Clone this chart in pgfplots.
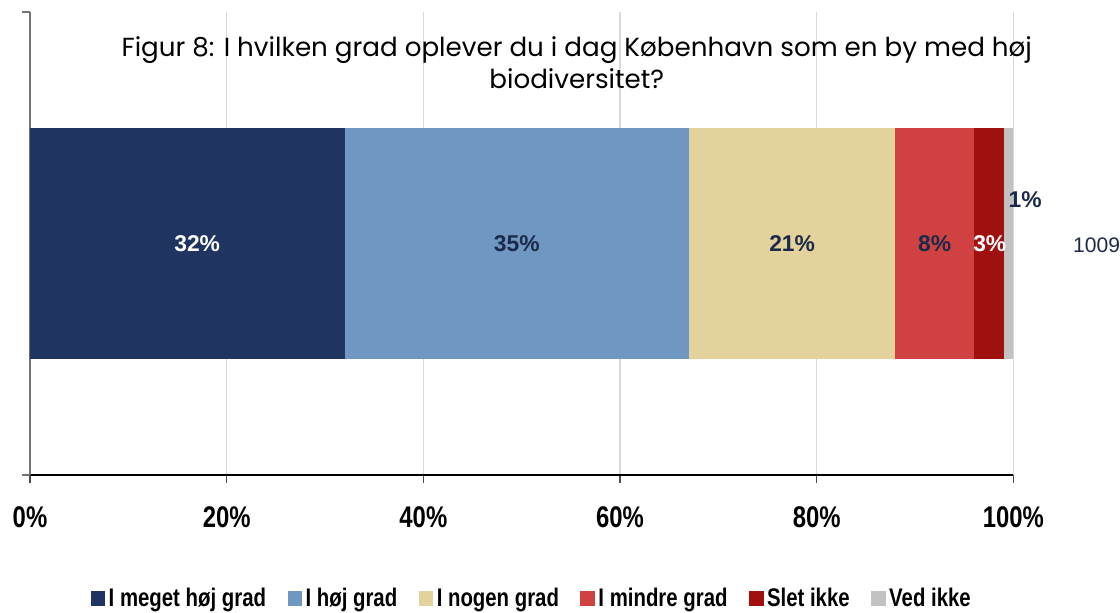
\documentclass[border=0pt]{standalone}
\usepackage{pgfplots}
\pgfplotsset{compat=1.18}
\usepackage{fontspec}
\setmainfont{Liberation Sans}
\newfontfamily\titlefont{Poppins}
\newfontfamily\narrow[FakeStretch=0.8]{Liberation Sans}
\definecolor{c1}{HTML}{1F3461}
\definecolor{c2}{HTML}{7097C1}
\definecolor{c3}{HTML}{E4D29C}
\definecolor{c4}{HTML}{D04242}
\definecolor{c5}{HTML}{A0100E}
\definecolor{c6}{HTML}{C2C2C2}
\definecolor{lbl}{HTML}{1B2A4A}
\begin{document}
\begin{tikzpicture}
% page frame 1120x612 px, 1px = 0.02cm
\path (0,0) rectangle (22.4,-12.24);
\begin{axis}[
    at={(0.6cm,-9.5cm)}, anchor=south west,
    scale only axis,
    width=19.68cm, height=9.26cm,
    xbar stacked,
    bar width=1,
    xmin=0, xmax=100,
    ymin=-1, ymax=1,
    xtick={0,20,40,60,80,100},
    xticklabels={0\%,20\%,40\%,60\%,80\%,100\%},
    xticklabel style={font=\narrow\bfseries\fontsize{17}{19}\selectfont, anchor=center, yshift=-0.7cm},
    ytick={-1,1}, yticklabels={},
    tick align=outside,
    major tick length=0.16cm,
    xmajorgrids,
    grid style={draw=black!15, line width=0.8pt},
    axis x line*=bottom,
    axis y line*=left,
    x axis line style={line width=1.3pt, black},
    y axis line style={line width=1pt, black!55},
    xtick style={black!70, line width=0.8pt},
    ytick style={black!55, line width=1pt},
    legend columns=6,
    legend style={at={(0.511,-0.268)}, anchor=center, draw=none, inner sep=0pt,
        font=\narrow\bfseries\fontsize{14.5}{16}\selectfont,
        /tikz/every even column/.append style={column sep=0.36cm}},
    legend image code/.code={\fill[#1] (0,-0.14cm) rectangle (0.29cm,0.15cm);},
]
\addplot[fill=c1, draw=none] coordinates {(32,0)};
\addplot[fill=c2, draw=none] coordinates {(35,0)};
\addplot[fill=c3, draw=none] coordinates {(21,0)};
\addplot[fill=c4, draw=none] coordinates {(8,0)};
\addplot[fill=c5, draw=none] coordinates {(3,0)};
\addplot[fill=c6, draw=none] coordinates {(1,0)};
\legend{I meget høj grad, I høj grad, I nogen grad, I mindre grad, Slet ikke, Ved ikke}
\coordinate (l1) at (axis cs:17,0);
\coordinate (l2) at (axis cs:49.5,0);
\coordinate (l3) at (axis cs:77.5,0);
\coordinate (l4) at (axis cs:92,0);
\coordinate (l5) at (axis cs:97.6,0);
\coordinate (l6) at (axis cs:101.2,0.19);
\end{axis}
\begin{scope}[every node/.style={font=\bfseries\fontsize{13}{15}\selectfont}]
\node[white] at (l1) {32\%};
\node[lbl] at (l2) {35\%};
\node[lbl] at (l3) {21\%};
\node[lbl] at (l4) {8\%};
\node[white] at (l5) {3\%};
\node[lbl] at (l6) {1\%};
\end{scope}
\begin{scope}[x=0.02cm, y=-0.02cm]
\node[font=\titlefont\fontsize{14.9}{18.2}\selectfont, align=center] at (577,63)
  {Figur 8: I hvilken grad oplever du i dag København som en by med høj\\ biodiversitet?};
\node[font=\fontsize{12}{14}\selectfont, lbl, inner sep=0pt] at (1097,245) {1009};
\end{scope}
\end{tikzpicture}
\end{document}
